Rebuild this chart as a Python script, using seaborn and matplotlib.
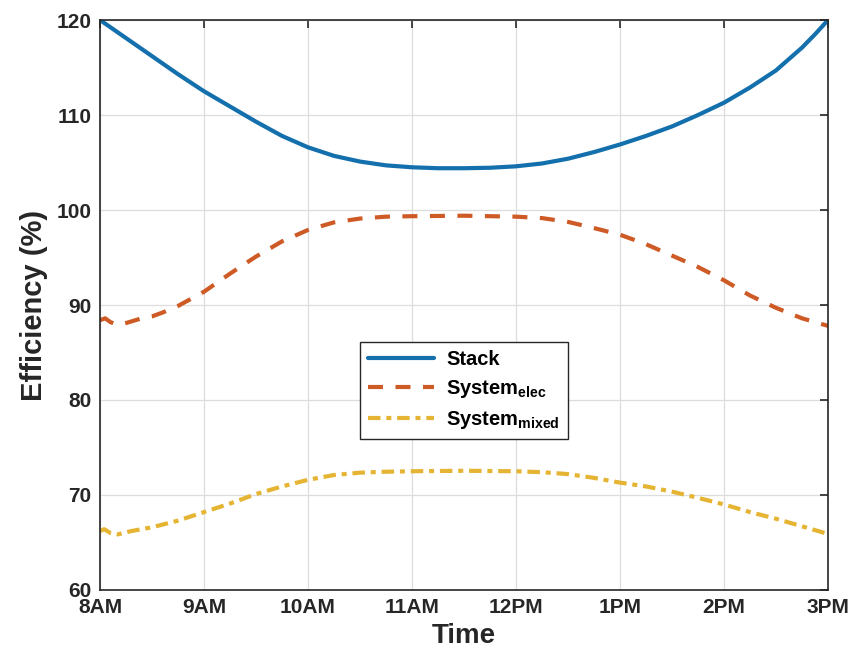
import numpy as np
import pandas as pd
import matplotlib
matplotlib.use("Agg")
import matplotlib.pyplot as plt
import seaborn as sns

# Hours after 8 AM and efficiency values (%) for each curve
stack_t = [0.0, 0.25, 0.5, 0.75, 1.0, 1.25, 1.5, 1.75, 2.0, 2.25, 2.5, 2.75, 3.0,
           3.25, 3.5, 3.75, 4.0, 4.25, 4.5, 4.75, 5.0, 5.25, 5.5, 5.75, 6.0, 6.25,
           6.5, 6.625, 6.75, 6.875, 7.0]
stack_eff = [120.0, 118.1, 116.2, 114.3, 112.5, 110.9, 109.3, 107.8, 106.6, 105.7,
             105.1, 104.7, 104.5, 104.4, 104.4, 104.45, 104.6, 104.9, 105.4, 106.1,
             106.9, 107.8, 108.8, 110.0, 111.3, 112.9, 114.7, 115.9, 117.1, 118.5,
             120.0]

elec_t = [0.0, 0.05, 0.1, 0.17, 0.25, 0.4, 0.5, 0.6, 0.75, 1.0, 1.25, 1.5, 1.75,
          2.0, 2.25, 2.5, 2.75, 3.0, 3.5, 4.0, 4.25, 4.5, 4.75, 5.0, 5.25, 5.5,
          5.75, 6.0, 6.25, 6.5, 6.75, 7.0]
elec_eff = [88.4, 88.6, 88.2, 87.9, 88.1, 88.6, 88.8, 89.2, 89.9, 91.4, 93.3, 95.1,
            96.7, 97.9, 98.7, 99.1, 99.3, 99.35, 99.4, 99.3, 99.15, 98.75, 98.1,
            97.4, 96.4, 95.2, 94.0, 92.6, 91.0, 89.7, 88.6, 87.8]

mixed_t = [0.0, 0.04, 0.1, 0.17, 0.3, 0.5, 0.75, 1.0, 1.25, 1.5, 1.75, 2.0, 2.25,
           2.5, 2.75, 3.0, 3.5, 4.0, 4.25, 4.5, 4.75, 5.0, 5.25, 5.5, 5.75, 6.0,
           6.25, 6.5, 6.75, 7.0]
mixed_eff = [66.2, 66.4, 66.0, 65.85, 66.2, 66.6, 67.3, 68.2, 69.1, 70.1, 70.9, 71.6,
             72.1, 72.35, 72.45, 72.5, 72.55, 72.5, 72.4, 72.2, 71.8, 71.3, 70.9,
             70.35, 69.7, 69.0, 68.2, 67.5, 66.7, 65.9]

tick_hours = [0, 1, 2, 3, 4, 5, 6, 7]
tick_labels = ["8AM", "9AM", "10AM", "11AM", "12PM", "1PM", "2PM", "3PM"]
y_ticks = [60, 70, 80, 90, 100, 110, 120]

sns.set_theme(style="white")
plt.rcParams["font.family"] = ["Liberation Sans", "DejaVu Sans"]
plt.rcParams["font.weight"] = "bold"
plt.rcParams["mathtext.fontset"] = "custom"
plt.rcParams["mathtext.rm"] = "Liberation Sans:bold"
plt.rcParams["mathtext.bf"] = "Liberation Sans:bold"

fig = plt.figure(figsize=(8.57, 6.68), dpi=100)
ax = fig.add_axes([0.1167, 0.1168, 0.8495, 0.8532])

lw = 3.0
sns.lineplot(x=stack_t, y=stack_eff, ax=ax, color="#1470AD", lw=lw,
             label="Stack", sort=False, estimator=None)
sns.lineplot(x=elec_t, y=elec_eff, ax=ax, color="#CE5A25", lw=lw,
             linestyle=(0, (3.6, 3.0)), label=r"$\mathbf{System}_{\mathbf{elec}}$",
             sort=False, estimator=None)
sns.lineplot(x=mixed_t, y=mixed_eff, ax=ax, color="#E5B433", lw=lw,
             linestyle=(0, (3.0, 1.4, 1.2, 1.4)), label=r"$\mathbf{System}_{\mathbf{mixed}}$",
             sort=False, estimator=None)

ax.set_xlim(0, 7)
ax.set_ylim(60, 120)
ax.set_xticks(tick_hours)
ax.set_xticklabels(tick_labels)
ax.set_yticks(y_ticks)
ax.grid(True, color="#dddddd", lw=0.9)
ax.set_axisbelow(True)
for s in ax.spines.values():
    s.set_color("#262626")
    s.set_linewidth(1.2)
ax.tick_params(axis="both", which="both", direction="in", length=6, width=1.2,
               top=True, right=True, labelsize=15, colors="#262626", pad=6)
for lab in ax.get_xticklabels() + ax.get_yticklabels():
    lab.set_fontweight("bold")
    lab.set_color("#262626")

ax.set_xlabel("Time", fontsize=20, fontweight="bold", color="#262626", labelpad=4)
ax.set_ylabel("Efficiency (%)", fontsize=21, fontweight="bold", color="#262626", labelpad=6)

leg = ax.legend(loc="center", bbox_to_anchor=(0.5, 0.35), fontsize=14.5,
                frameon=True, fancybox=False, framealpha=1, edgecolor="#262626",
                handlelength=3.3, borderpad=0.4, labelspacing=0.45, handletextpad=0.6)
leg.get_frame().set_linewidth(1.0)
for t in leg.get_texts():
    t.set_fontweight("bold")
    t.set_color("black")

fig.savefig("out.png", dpi=100)
